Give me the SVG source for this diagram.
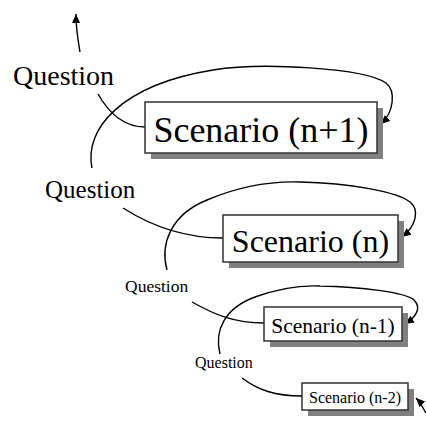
<svg xmlns="http://www.w3.org/2000/svg" width="426" height="421" viewBox="0 0 426 421">
<style>
.shadow{fill:#808080;stroke:none}
.box{fill:#fff;stroke:#333;stroke-width:1.5}
.t{font-family:"Liberation Serif","Times New Roman",serif;fill:#000}
.c{fill:none;stroke:#000;stroke-width:1.4}
</style>
<defs>
<marker id="ah" markerUnits="userSpaceOnUse" markerWidth="12" markerHeight="10" refX="9" refY="4" orient="auto">
<path d="M0,0 L9,4 L0,8 z" fill="#000"/>
</marker>
</defs>
<rect width="426" height="421" fill="#fff"/>
<g id="connectors">
<path class="c" d="M80,52 C78,40 76,30 76,14" marker-end="url(#ah)"/>
<path class="c" d="M98,94 C110,115 125,127 145,127"/>
<path class="c" d="M92,168 C84,130 120,85 213,70 C262,62 365,68 386,83 C396,91 394,112 381,124" marker-end="url(#ah)"/>
<path class="c" d="M123,208 C145,222 180,238 223,238"/>
<path class="c" d="M167,270 C160,245 170,215 207,200 C240,186 270,181 300,182 C350,183 398,192 410,202 C420,210 416,226 402,237" marker-end="url(#ah)"/>
<path class="c" d="M192,302 C215,315 235,323 264,323"/>
<path class="c" d="M220,354 C214,330 225,308 255,297 C280,288 300,285 320,286 C360,287 405,292 414,300 C422,308 416,317 405,324" marker-end="url(#ah)"/>
<path class="c" d="M242,378 C258,390 275,396 302,396"/>
<path class="c" d="M426,413 C423,408 420,402 416,398" marker-end="url(#ah)"/>
</g>
<g id="q1"><text class="t" x="13" y="85" font-size="28">Question</text></g>
<g id="q2"><text class="t" x="45" y="198" font-size="25">Question</text></g>
<g id="q3"><text class="t" x="125" y="292" font-size="17.5">Question</text></g>
<g id="q4"><text class="t" x="195" y="368" font-size="16">Question</text></g>
<g id="s1">
<rect class="shadow" x="151" y="108" width="232" height="51"/>
<rect class="box" x="145" y="102" width="232" height="51"/>
<text class="t" x="261" y="142" font-size="36" text-anchor="middle">Scenario (n+1)</text>
</g>
<g id="s2">
<rect class="shadow" x="229" y="221" width="175" height="47"/>
<rect class="box" x="223" y="215" width="175" height="47"/>
<text class="t" x="310.5" y="252" font-size="32" text-anchor="middle">Scenario (n)</text>
</g>
<g id="s3">
<rect class="shadow" x="270" y="313" width="138" height="34"/>
<rect class="box" x="264" y="307" width="138" height="34"/>
<text class="t" x="333" y="333" font-size="21.5" text-anchor="middle">Scenario (n-1)</text>
</g>
<g id="s4">
<rect class="shadow" x="308" y="389" width="106" height="27"/>
<rect class="box" x="302" y="383" width="106" height="27"/>
<text class="t" x="355" y="403" font-size="16" text-anchor="middle">Scenario (n-2)</text>
</g>
</svg>
